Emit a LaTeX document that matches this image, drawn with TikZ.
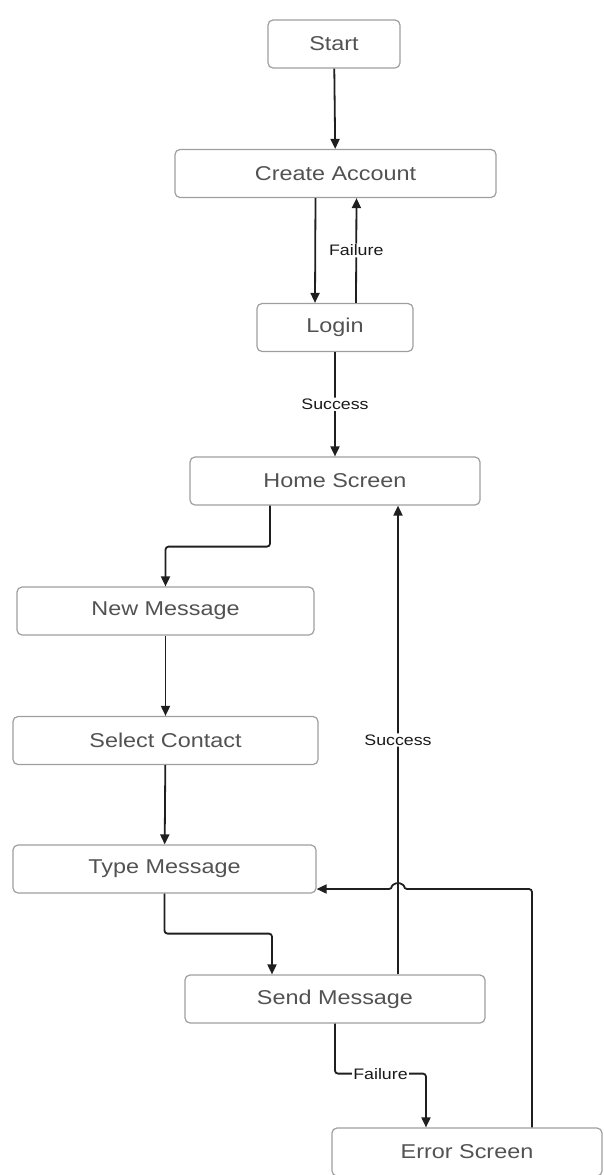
\documentclass[tikz,border=0pt]{standalone}
\usepackage{fontspec}
\setmainfont{Liberation Sans}
\usepackage{graphicx}
\usetikzlibrary{arrows.meta}
\tikzset{>={Triangle[length=5pt,width=4.5pt]}}
\newcommand{\wide}[1]{\scalebox{1.17}[1]{#1}}
\begin{document}
\begin{tikzpicture}[x=0.5pt,y=-0.5pt,
    screen/.style={draw=black!38,line width=0.6pt,rounded corners=2.5pt,
        minimum height=24pt,inner sep=0pt,text=black!68,
        font=\fontsize{10}{12}\selectfont},
    flow/.style={->,black!88,line width=0.9pt,rounded corners=1.5pt},
    tag/.style={fill=white,inner sep=0.6pt,text=black!90,
        font=\fontsize{7.6}{9}\selectfont}]
    \useasboundingbox (0,0) rectangle (604,1175);
    \node[screen,minimum width=66pt] at (334,44) (start) {\wide{Start}};
    \node[screen,minimum width=160.5pt] at (335.5,173.5) (acct) {\wide{Create Account}};
    \node[screen,minimum width=78pt] at (335,327.5) (login) {\wide{Login}};
    \node[screen,minimum width=145pt] at (335,481) (home) {\wide{Home Screen}};
    \node[screen,minimum width=148.5pt] at (165.5,611) (newmsg) {\wide{New Message}};
    \node[screen,minimum width=152.5pt] at (165.5,740.5) (contact) {\wide{Select Contact}};
    \node[screen,minimum width=151.5pt] at (164.5,869) (typemsg) {\wide{Type Message}};
    \node[screen,minimum width=150pt] at (335,999) (send) {\wide{Send Message}};
    \node[screen,minimum width=135pt] at (467,1152) (err) {\wide{Error Screen}};
    % ports on the boxes
    \path ([xshift=31.5pt]send.north) coordinate (sx);
    \path ([yshift=-10pt]typemsg.east) coordinate (tin);
    \path ([xshift=-20.5pt]err.north) coordinate (errin);
    \path ([xshift=32.5pt]err.north) coordinate (back);
    \coordinate (hop) at (sx |- tin);
    \path[flow]
    (start) edge (acct)
    ([xshift=-10pt]acct.south) edge ([xshift=-10pt]login.north)
    ([xshift=10.5pt]login.north) edge node[tag] {\wide{Failure}} ([xshift=10.5pt]acct.south)
    (login) edge node[tag] {\wide{Success}} (home)
    (newmsg) edge (contact)
    (contact) edge (typemsg)
    (sx) edge node[tag] {\wide{Success}} (sx |- home.south)
    ;
    \draw[flow] ([xshift=-32.5pt]home.south) -- ++(0,41) -| (newmsg.north);
    \draw[flow] (typemsg.south) -- ++(0,40) -| ([xshift=-31.5pt]send.north);
    \draw[flow] (send.south) -- ++(0,50) coordinate (fail)
        -- (fail -| errin) node[midway,tag] {\wide{Failure}} -- (errin);
    \draw[flow] (back) |- ([xshift=3pt]hop)
        arc[start angle=0,end angle=180,radius=3pt] -- (tin);
\end{tikzpicture}
\end{document}
